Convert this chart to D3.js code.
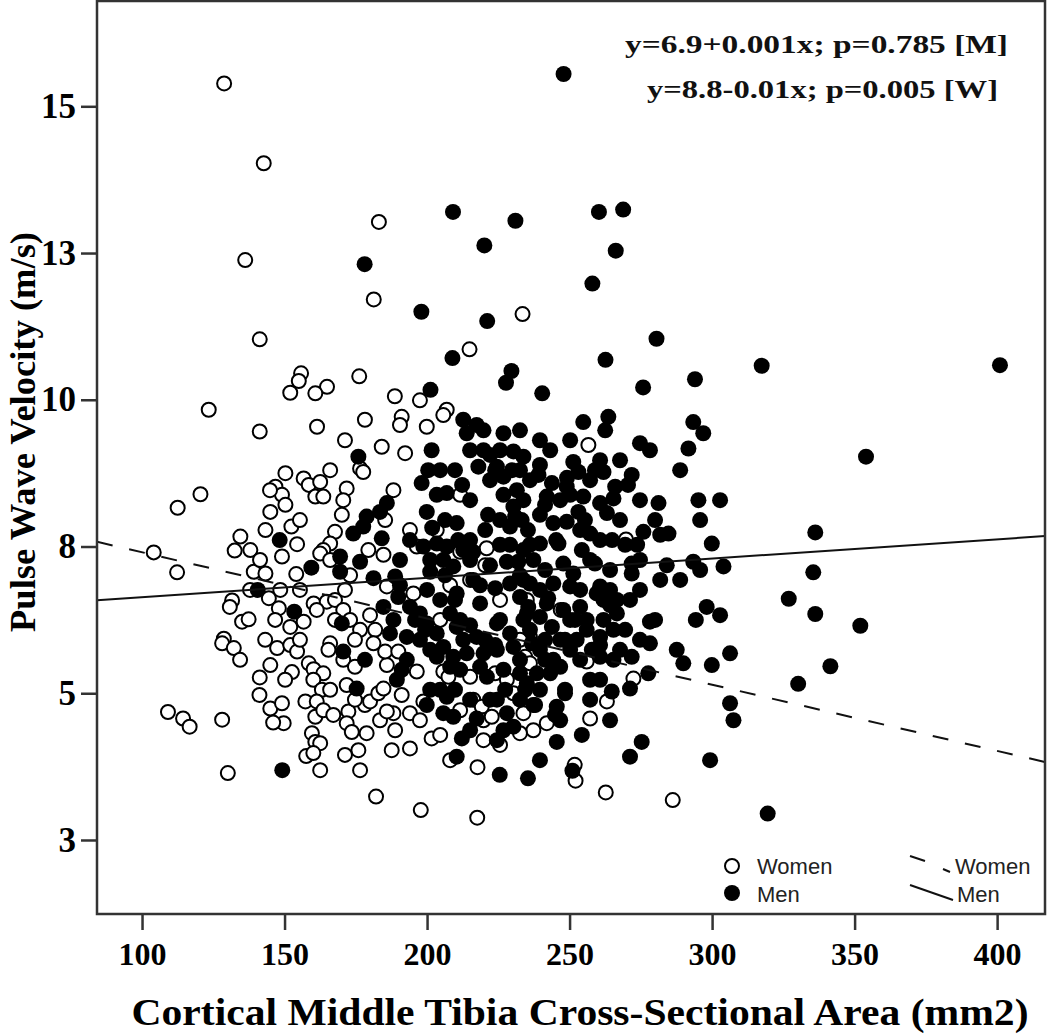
<!DOCTYPE html>
<html>
<head>
<meta charset="utf-8">
<script src="https://cdn.jsdelivr.net/npm/d3@7"></script>
<style>
  body { margin: 0; background: #fff; }
</style>
</head>
<body>
<svg id="chart" width="1050" height="1035"></svg>
<script>
// Tick values and labels
const xTicks = [100, 150, 200, 250, 300, 350, 400];
const yTicks = [2.5, 5, 7.5, 10, 12.5, 15];
const yTickLabels = ["3", "5", "8", "10", "13", "15"];

// Fit lines as drawn: intercept and slope for each series
const fitSeries = ["Women", "Men"];
const fitIntercept = [8.53, 6.31];
const fitSlope = [-0.01128, 0.00328];

const fitText = ["y=6.9+0.001x; p=0.785 [M]", "y=8.8-0.01x; p=0.005 [W]"];

// Women: [cortical area (mm2), pulse wave velocity (m/s)]
const womenPoints = [
  [128.8,15.39],[142.7,14.03],[183.1,13.03],[136.2,12.38],[181.3,11.71],[141.3,11.03],[155.8,10.45],[155.0,10.32],
  [164.9,10.22],[176.2,10.40],[188.7,10.06],[233.5,11.46],[214.9,10.86],
  [123.4,9.83],[141.3,9.46],[152.0,10.12],[160.8,10.11],[161.4,9.54],[150.3,8.75],[146.8,8.52],[149.1,8.38],[150.3,8.21],
  [145.0,8.09],[143.3,7.78],[152.4,7.84],[154.4,7.54],[149.1,7.33],[156.7,8.66],[158.5,8.55],[160.8,8.35],[120.5,8.39],
  [112.5,8.16],[134.5,7.67],[132.5,7.43],[138.0,7.44],[104.1,7.40],[112.3,7.06],[139.2,7.07],[143.3,7.04],[154.1,7.03],
  [144.5,6.62],[148.5,6.76],[131.6,6.58],[130.8,6.47],[135.1,6.22],[137.4,6.26],[148.0,6.45],[152.0,6.13],[156.7,6.22],
  [160.2,6.53],[128.7,5.93],[128.1,5.85],[132.2,5.77],[147.4,5.77],[152.0,5.82],[154.4,5.71],[145.0,5.48],[152.6,5.36],
  [158.5,5.51],[160.2,5.41],[141.3,5.27],[141.2,4.97],[145.0,4.74],[149.1,4.83],[149.7,4.49],[146.0,4.50],[157.3,4.86],
  [160.8,4.60],[159.6,4.32],[160.8,4.17],[157.6,3.93],[109.1,4.68],[114.4,4.57],[116.7,4.43],[128.1,4.55],[130.1,3.64],
  [191.1,9.71],[190.5,9.57],[199.9,9.54],[206.9,9.83],[205.7,9.74],[184.1,9.20],[192.3,9.09],[176.5,8.83],[177.6,8.77],
  [162.5,8.60],[163.6,8.35],[171.8,8.49],[170.6,8.29],[170.1,8.04],[188.2,8.46],[185.3,7.95],[194.0,7.78],[203.4,7.78],
  [211.6,8.38],[167.7,7.75],[166.0,7.55],[163.6,7.44],[162.5,7.38],[184.7,7.36],[179.4,7.44],[196.4,7.50],[220.9,7.47],
  [220.4,7.18],[185.9,6.82],[195.2,6.70],[164.8,6.56],[167.7,6.59],[161.3,6.42],[170.6,6.42],[173.0,6.25],[176.5,6.08],
  [180.0,6.33],[181.8,6.08],[181.2,5.85],[166.0,5.85],[165.4,5.74],[170.6,5.57],[174.7,5.45],[185.9,5.48],[185.3,5.71],
  [189.9,5.71],[196.4,5.37],[163.6,5.34],[160.1,5.23],[171.8,5.14],[163.1,5.06],[161.3,4.86],[163.6,4.71],[167.1,4.63],
  [172.4,4.69],[171.8,4.49],[173.6,4.34],[178.2,4.80],[180.0,4.86],[182.9,5.00],[184.7,5.08],[191.1,4.97],[188.2,4.66],
  [183.5,4.54],[178.8,4.32],[185.9,4.69],[194.0,4.66],[198.7,4.86],[201.6,4.23],[187.6,4.03],[194.0,4.06],[175.9,4.03],
  [162.5,4.15],[160.1,3.98],[216.2,4.89],[219.2,4.77],[219.8,4.54],[219.8,4.20],[222.7,4.60],[205.7,5.37],[207.5,5.28],
  [215.1,5.28],[223.9,5.34],[228.0,5.23],[230.3,5.00],[211.6,7.41],
  [256.6,9.23],[269.8,7.62],[235.0,6.59],[236.1,5.96],[234.4,5.62],[236.1,5.51],[256.0,5.54],[272.4,5.25],[263.1,4.86],
  [257.2,4.57],[242.0,4.49],[237.3,4.37],[233.8,4.66],[232.6,4.32],
  [182.1,3.24],[197.8,3.01],[217.6,2.88],[217.7,3.74],[252.1,3.51],[251.8,3.78],[262.7,3.31],[286.2,3.18],
  [167.7,6.25],[174.7,5.91],[171.2,6.76],[155.4,6.76],[155.4,5.91],[150.2,5.23],[166.0,5.06],[174.7,4.89],[188.8,4.37],
  [197.5,4.54],[204.6,4.29],[211.6,4.71],[137.9,6.76],[141.4,7.27],[146.7,6.25],[134.4,5.57],[143.2,5.91],[166.0,7.27],
  [173.0,7.01],[155.4,7.95],[166.0,8.80],[144.9,8.46],[171.2,9.31],[178.2,9.66],[197.5,9.99],[215.1,6.93],[225.6,6.59],
  [208.1,6.84],[204.6,6.25],[232.6,5.91],[246.9,6.42],[225.6,4.12],[208.1,3.86],[162.5,3.69],[176.5,3.69],[171.2,3.95]
];

// Men: [cortical area (mm2), pulse wave velocity (m/s)]
const menPoints = [
  [178.1,12.31],[198.0,11.50],[201.2,10.17],
  [247.9,15.55],[209.1,13.20],[231.0,13.05],[260.3,13.20],[268.8,13.24],[220.1,12.63],[266.2,12.54],[258.0,11.98],
  [221.1,11.34],[208.9,10.71],[229.6,10.49],[227.7,10.29],[240.4,10.11],[262.6,10.68],[280.5,11.04],[275.8,10.21],
  [294.0,10.35],[317.4,10.58],[401.0,10.59],
  [212.7,9.66],[217.4,9.57],[213.9,9.43],[219.8,9.48],[226.8,9.43],[201.6,9.14],[219.8,9.14],[230.3,9.12],[233.8,9.03],
  [218.0,8.86],[224.5,8.86],[222.1,8.63],[226.8,8.69],[231.5,8.46],[226.8,8.38],[175.9,9.03],[198.1,8.58],[203.4,8.38],
  [206.9,8.41],[215.1,8.29],[199.9,8.09],[230.3,8.18],[230.9,8.01],[229.1,7.84],[185.9,8.24],[183.5,8.09],[178.8,8.01],
  [177.6,7.84],[174.1,7.72],[184.1,7.64],[210.4,7.90],[220.4,7.78],[215.1,7.61],[198.7,7.50],[203.4,7.55],[206.9,7.50],
  [205.7,7.27],[209.2,7.16],[212.7,7.44],[216.2,7.41],[229.1,7.53],[233.8,7.44],[228.0,7.24],[232.0,7.24],[169.5,7.33],
  [169.5,7.07],[176.5,7.24],[181.2,6.96],[188.8,6.99],[190.5,6.84],[201.1,7.07],[216.2,6.93],[223.9,6.79],[229.1,6.87],
  [233.8,6.93],[189.9,6.64],[210.4,6.70],[204.6,6.59],[218.6,6.53],[232.6,6.64],[235.0,6.36],[184.7,6.47],[194.0,6.47],
  [197.5,6.36],[188.2,6.25],[199.9,6.19],[208.1,6.36],[210.4,6.13],[203.4,6.02],[224.5,6.19],[229.1,6.02],[170.1,6.19],
  [187.0,6.02],[192.9,5.96],[197.5,5.91],[212.7,5.91],[217.4,5.96],[205.7,5.79],[209.2,5.62],[203.4,5.62],[213.9,5.68],
  [219.8,5.68],[224.5,5.74],[230.3,5.79],[170.6,5.71],[178.2,5.57],[191.1,5.40],[192.9,5.57],[189.4,5.23],[208.1,5.45],
  [218.6,5.45],[221.0,5.28],[226.8,5.40],[232.6,5.34],[175.3,5.08],[201.1,5.06],[206.9,4.94],[199.9,4.80],[205.7,4.66],
  [209.2,4.60],[224.5,4.89],[228.0,4.66],[230.3,4.43],[226.8,4.37],[224.5,4.20],[212.2,4.23],[210.4,3.92],[217.4,4.57],
  [254.8,9.62],[263.6,9.71],[262.5,9.48],[293.4,9.62],[296.9,9.43],[291.7,9.17],[239.6,9.31],[274.7,9.26],[251.3,8.94],
  [253.1,8.77],[239.1,8.72],[261.9,8.77],[271.8,8.72],[243.8,8.58],[249.0,8.52],[266.0,8.52],[242.0,8.35],[250.2,8.38],
  [254.8,8.35],[260.7,8.24],[265.4,8.32],[281.2,8.24],[295.2,8.29],[233.8,8.29],[239.6,8.04],[253.1,8.09],[263.1,8.07],
  [233.2,7.95],[244.3,7.90],[249.0,7.92],[257.2,7.72],[275.9,7.75],[281.8,7.70],[284.7,7.72],[269.5,7.53],[299.9,7.55],
  [246.1,7.55],[254.3,7.44],[236.1,7.53],[239.6,7.55],[237.3,7.27],[247.8,7.21],[258.9,7.21],[271.8,7.21],[271.8,7.04],
  [284.1,7.18],[293.4,7.24],[304.0,7.16],[288.8,6.93],[251.3,7.04],[250.2,6.82],[236.1,6.87],[239.6,6.76],[244.3,6.87],
  [260.7,6.82],[264.2,6.76],[266.6,6.59],[261.9,6.59],[259.5,6.70],[266.6,6.36],[253.7,6.47],[235.5,6.47],[242.0,6.53],
  [247.8,6.42],[250.2,6.25],[256.0,6.25],[261.9,6.25],[233.8,6.25],[239.6,6.30],[243.8,6.13],[256.0,6.08],[265.4,6.08],
  [260.7,5.96],[252.5,5.91],[246.7,5.91],[241.4,5.91],[236.7,5.85],[250.2,5.74],[257.8,5.74],[260.7,5.62],[265.4,5.57],
  [271.8,5.62],[278.2,6.22],[278.2,5.85],[298.1,6.47],[302.8,6.33],[287.6,5.74],[289.9,5.51],[299.9,5.48],[306.3,5.68],
  [277.6,5.34],[244.3,5.57],[246.7,5.45],[243.2,5.34],[238.5,5.34],[235.0,5.17],[239.6,5.06],[248.4,5.00],[271.2,5.08],
  [264.8,5.03],[306.3,4.83],[307.5,4.54],[245.5,4.77],[237.3,4.80],[254.3,4.29],[245.5,4.17],[271.2,3.92],[275.3,4.17],
  [299.3,3.86],
  [225.5,3.61],[235.4,3.55],[251.0,3.68],[319.5,2.95],
  [148.3,7.61],[159.4,7.14],[140.6,6.76],[153.4,6.39],[149.2,3.69],
  [354.0,9.03],[336.2,7.74],[335.5,7.06],[326.9,6.61],[336.2,6.35],[352.0,6.15],[341.5,5.46],[330.2,5.16],
  [209.8,8.80],[222.1,9.06],[232.6,8.80],[241.4,8.21],[253.7,7.78],[267.7,7.95],[209.8,6.59],[225.6,6.25],[241.4,5.57],
  [257.2,7.27],[271.2,6.59],[215.1,4.89],[232.6,4.89],[246.7,4.54],[260.7,5.23],[274.7,5.91],[281.8,6.93],[288.8,8.80],
  [295.8,7.95],[278.2,9.14],[260.7,8.97],[243.2,9.14],[225.6,7.95],[215.1,7.27],[201.1,7.27],[211.6,6.25],[220.4,5.91],
  [236.1,6.08],[251.9,6.25],[264.2,7.10],[274.7,7.27],[280.0,7.95],[274.7,8.29],[257.2,8.63],[246.7,8.29],[236.1,8.63],
  [225.6,9.14],[215.1,9.14],[204.6,8.80],[206.3,7.95],[218.6,6.84],[232.6,5.57],[248.4,5.06],[257.2,4.89],[267.7,5.74],
  [280.0,6.25],[260.7,7.61],[241.4,7.10],[204.6,5.06],[215.1,4.37],[239.6,3.86],[264.2,4.54],[294.3,6.25],[295.8,7.10],
  [302.8,8.29],[194.0,7.61],[190.5,7.27],[195.8,6.25],[201.1,5.74],[211.6,5.40],[227.4,5.06],[237.9,4.80],[253.7,5.57],
  [267.7,8.97],[250.2,9.31],[232.6,9.48],
  [200.4,8.80],[212.3,8.55],[223.9,8.80],[229.8,8.80],[239.6,8.89],[249.1,8.67],[258.9,8.80],[270.5,8.55],[201.8,7.82],
  [210.9,7.61],[221.4,8.04],[225.6,7.53],[235.4,7.78],[245.3,7.61],[255.4,7.95],[264.9,7.61],[273.7,7.53],[200.0,6.76],
  [206.3,7.01],[222.1,7.18],[232.6,7.01],[242.5,6.62],[253.7,6.76],[264.2,6.50],[274.7,6.76],[199.3,6.08],[215.1,6.16],
  [223.9,5.82],[239.6,5.74],[248.4,5.91],[260.7,5.82],[269.5,6.08],[209.8,5.06],[222.1,4.89],[234.4,5.06],[244.9,4.63],
  [257.2,5.23]
];

// Layout
const margin = { top: 1, right: 5, bottom: 121, left: 97 };
const width = 1050 - margin.left - margin.right;
const height = 1035 - margin.top - margin.bottom;

const svg = d3.select("#chart");
svg.append("rect").attr("width", 1050).attr("height", 1035).attr("fill", "#fff");

const g = svg
  .append("g")
  .attr("transform", `translate(${margin.left},${margin.top})`);

// Scales
const xScale = d3.scaleLinear().domain([84.2, 416.8]).range([0, width]);
const yScale = d3.scaleLinear().domain([1.239, 16.794]).range([height, 0]);

// Clip for fit lines
svg
  .append("clipPath")
  .attr("id", "plotClip")
  .append("rect")
  .attr("width", width)
  .attr("height", height);

// X axis
const xAxis = g
  .append("g")
  .attr("class", "x-axis")
  .attr("transform", `translate(0,${height})`)
  .call(
    d3.axisBottom(xScale).tickValues(xTicks).tickSize(16).tickPadding(12).tickFormat(d3.format("d"))
  );
xAxis.select(".domain").remove();
xAxis.selectAll("line").attr("stroke", "#333").attr("stroke-width", 2.5);
xAxis
  .selectAll("text")
  .attr("fill", "#000")
  .style("font-family", "'Liberation Serif', serif")
  .style("font-weight", "bold")
  .style("font-size", "32px");

// Y axis
const yAxis = g
  .append("g")
  .attr("class", "y-axis")
  .call(
    d3.axisLeft(yScale).tickValues(yTicks).tickSize(16).tickPadding(5)
      .tickFormat((d, i) => yTickLabels[i])
  );
yAxis.select(".domain").remove();
yAxis.selectAll("line").attr("stroke", "#333").attr("stroke-width", 2.5);
yAxis
  .selectAll("text")
  .attr("fill", "#000")
  .style("font-family", "'Liberation Serif', serif")
  .style("font-weight", "bold")
  .style("font-size", "35px");

// Points: women as open circles, men as filled
g.selectAll(".women")
  .data(womenPoints)
  .enter()
  .append("circle")
  .attr("class", "women data")
  .attr("cx", (d) => xScale(d[0]))
  .attr("cy", (d) => yScale(d[1]))
  .attr("r", 7)
  .attr("fill", "#fff")
  .attr("stroke", "#000")
  .attr("stroke-width", 2);

g.selectAll(".men")
  .data(menPoints)
  .enter()
  .append("circle")
  .attr("class", "men data")
  .attr("cx", (d) => xScale(d[0]))
  .attr("cy", (d) => yScale(d[1]))
  .attr("r", 8)
  .attr("fill", "#000");

// Fit lines across the whole x range
const fitGroup = g.append("g").attr("clip-path", "url(#plotClip)");
fitSeries.forEach((name, i) => {
  const ends = xScale.domain().map((xv) => [xv, fitIntercept[i] + fitSlope[i] * xv]);
  fitGroup
    .append("path")
    .datum(ends)
    .attr("d", d3.line().x((d) => xScale(d[0])).y((d) => yScale(d[1])))
    .attr("fill", "none")
    .attr("stroke", "#111")
    .attr("stroke-width", 2)
    .attr("stroke-dasharray", name === "Women" ? "16,17" : null);
});

// Frame
g.append("rect")
  .attr("width", width)
  .attr("height", height)
  .attr("fill", "none")
  .attr("stroke", "#333")
  .attr("stroke-width", 2.5);

// Equations in the top right corner
g.selectAll(".fit-text")
  .data(fitText)
  .enter()
  .append("text")
  .attr("class", "fit-text")
  .attr("x", (d, i) => (i === 0 ? 528 : 550))
  .attr("y", (d, i) => 52 + i * 45)
  .attr("textLength", (d, i) => (i === 0 ? 383 : 351))
  .attr("lengthAdjust", "spacingAndGlyphs")
  .style("font-family", "'Liberation Serif', serif")
  .style("font-weight", "bold")
  .style("font-size", "26px")
  .attr("fill", "#111")
  .text((d) => d);

// Legend
const legend = g.append("g");
const legendFont = (sel) =>
  sel
    .style("font-family", "'Liberation Sans', Arial, sans-serif")
    .style("font-size", "22px")
    .attr("fill", "#222");

legend.append("circle").attr("cx", 635).attr("cy", 865).attr("r", 7)
  .attr("fill", "#fff").attr("stroke", "#000").attr("stroke-width", 2);
legend.append("circle").attr("cx", 635).attr("cy", 892).attr("r", 8).attr("fill", "#000");
legend.append("text").attr("x", 660).attr("y", 873).text("Women").call(legendFont);
legend.append("text").attr("x", 660).attr("y", 901).text("Men").call(legendFont);

// Line legend
legend.append("line").attr("x1", 813).attr("y1", 855).attr("x2", 828).attr("y2", 860)
  .attr("stroke", "#111").attr("stroke-width", 2);
legend.append("line").attr("x1", 846).attr("y1", 868).attr("x2", 853).attr("y2", 871)
  .attr("stroke", "#111").attr("stroke-width", 2);
legend.append("line").attr("x1", 813).attr("y1", 884).attr("x2", 856).attr("y2", 899)
  .attr("stroke", "#111").attr("stroke-width", 2);
legend.append("text").attr("x", 858).attr("y", 873).text("Women").call(legendFont);
legend.append("text").attr("x", 860).attr("y", 901).text("Men").call(legendFont);

// Axis titles
svg
  .append("text")
  .attr("x", 580)
  .attr("y", 1025)
  .attr("text-anchor", "middle")
  .attr("textLength", 897)
  .attr("lengthAdjust", "spacingAndGlyphs")
  .style("font-family", "'Liberation Serif', serif")
  .style("font-weight", "bold")
  .style("font-size", "38px")
  .attr("fill", "#000")
  .text("Cortical Middle Tibia Cross-Sectional Area (mm2)");

svg
  .append("text")
  .attr("transform", "translate(35,432) rotate(-90)")
  .attr("text-anchor", "middle")
  .attr("textLength", 400)
  .attr("lengthAdjust", "spacingAndGlyphs")
  .style("font-family", "'Liberation Serif', serif")
  .style("font-weight", "bold")
  .style("font-size", "35px")
  .attr("fill", "#000")
  .text("Pulse Wave Velocity (m/s)");
</script>
</body>
</html>
